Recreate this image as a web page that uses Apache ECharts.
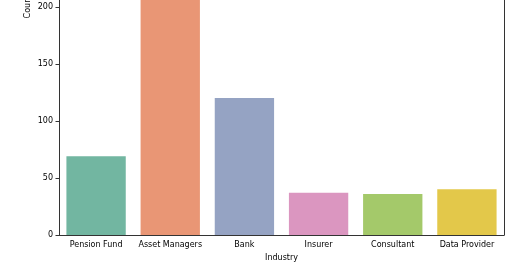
<!DOCTYPE html>
<html>
<head>
<meta charset="utf-8">
<script src="https://cdn.jsdelivr.net/npm/echarts@6/dist/echarts.min.js"></script>
<style>html,body{margin:0;padding:0;background:#fff;}#c{width:520px;height:272px;}</style>
</head>
<body>
<div id="c"></div>
<script>
const categories = ["Pension Fund", "Asset Managers", "Bank", "Insurer", "Consultant", "Data Provider"];
const counts = [69, 390, 120, 37, 36, 40];
const colors = ["#72b6a1", "#e99675", "#95a3c3", "#db96c0", "#a4c96a", "#e3c84a"];
const yTicks = { min: 0, max: 206, interval: 50 };

const chart = echarts.init(document.getElementById('c'), null, { renderer: 'canvas' });
const font = 'DejaVu Sans';
chart.setOption({
  animation: false,
  backgroundColor: '#ffffff',
  grid: { left: 59, right: 16, top: 0, bottom: 37 },
  graphic: [{
    type: 'text',
    x: 28, y: 6.5,
    rotation: Math.PI / 2,
    style: { text: 'Count', font: '8px "DejaVu Sans"', fill: '#000', textAlign: 'center', textVerticalAlign: 'middle' }
  }],
  xAxis: {
    type: 'category',
    data: categories,
    name: 'Industry',
    nameLocation: 'middle',
    nameGap: 17,
    nameTextStyle: { fontFamily: font, fontSize: 8, color: '#000' },
    axisLine: { lineStyle: { color: '#333', width: 1 } },
    axisTick: { alignWithLabel: true, length: 3.5, lineStyle: { color: '#333' } },
    axisLabel: { fontFamily: font, fontSize: 8, color: '#000', margin: 6, interval: 0 }
  },
  yAxis: [{
    type: 'value',
    min: yTicks.min, max: yTicks.max, interval: yTicks.interval,
    axisLine: { show: true, lineStyle: { color: '#333', width: 1 } },
    axisTick: { show: true, length: 3.5, lineStyle: { color: '#333' } },
    axisLabel: { fontFamily: font, fontSize: 8, color: '#000', margin: 6 },
    splitLine: { show: false }
  }, {
    type: 'value',
    position: 'right',
    min: yTicks.min, max: yTicks.max, interval: yTicks.interval,
    axisLine: { show: true, lineStyle: { color: '#333', width: 1 } },
    axisTick: { show: false },
    axisLabel: { show: false },
    splitLine: { show: false }
  }],
  series: [{
    type: 'bar',
    barWidth: '80%',
    clip: true,
    data: counts.map((v, i) => ({ value: v, itemStyle: { color: colors[i] } }))
  }]
});
</script>
</body>
</html>
